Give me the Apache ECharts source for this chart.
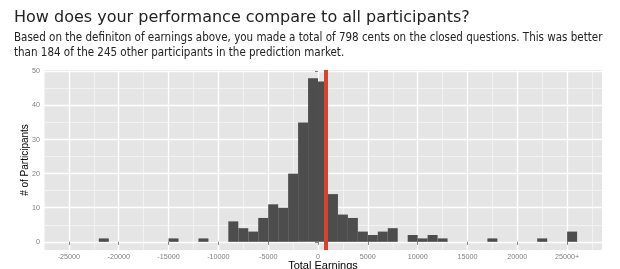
<!DOCTYPE html>
<html><head><meta charset="utf-8">
<script src="https://cdn.jsdelivr.net/npm/echarts@6/dist/echarts.min.js"></script>
<style>html,body{margin:0;padding:0;background:#fff;}#c{width:620px;height:269px;}</style>
</head><body><div id="c"></div>
<script>
// Histogram bins (bin start, width 1000 cents) and counts
const binStarts = [-22000,-15000,-12000,-9000,-8000,-7000,-6000,-5000,-4000,-3000,-2000,-1000,0,1000,2000,3000,4000,5000,6000,7000,9000,10000,11000,12000,17000,22000,25000];
const counts    = [1,1,1,6,4,3,7,11,10,20,35,48,47,14,8,7,3,2,3,4,2,1,2,1,1,1,3];
const binWidth = 1000;
const myEarnings = 798;
const xTicks = [-25000,-20000,-15000,-10000,-5000,0,5000,10000,15000,20000,25000];
const xTickLabels = ['-25000','-20000','-15000','-10000','-5000','0','5000','10000','15000','20000','25000+'];
const yTicks = [0,10,20,30,40,50];
const xMinor = [-27500,-22500,-17500,-12500,-7500,-2500,2500,7500,12500,17500,22500,27500];
const yMinor = [5,15,25,35,45];

const X_MIN = -27500, X_MAX = 28500, Y_MIN = -2.4, Y_MAX = 50.4;
const data = binStarts.map((s,i)=>[s, s+binWidth, counts[i]]);
const chart = echarts.init(document.getElementById('c'));
chart.setOption({
  animation:false,
  title:{
    text:'How does your performance compare to all participants?',
    subtext:'Based on the definiton of earnings above, you made a total of 798 cents on the closed questions. This was better\nthan 184 of the 245 other participants in the prediction market.',
    left:9, top:5, itemGap:5,
    textStyle:{fontFamily:'DejaVu Sans', fontSize:16, fontWeight:'normal', color:'#222'},
    subtextStyle:{fontFamily:'DejaVu Sans Condensed', fontSize:11.5, color:'#222', lineHeight:14.5}
  },
  grid:{left:44, right:18, top:70, bottom:19, show:true, backgroundColor:'#E5E5E5', borderWidth:0,
        containLabel:false, outerBoundsMode:'none'},
  xAxis:[{
    type:'value', min:X_MIN, max:X_MAX, z:2,
    name:'Total Earnings', nameLocation:'middle', nameGap:10, nameMoveOverlap:false,
    nameTextStyle:{fontFamily:'Liberation Sans', fontSize:11, color:'#000'},
    axisLine:{show:false},
    axisTick:{show:true, customValues:xTicks, length:3, lineStyle:{color:'#7F7F7F'}},
    axisLabel:{customValues:xTicks, fontFamily:'Liberation Sans', fontSize:7.2, color:'#7F7F7F', margin:4,
      formatter:v=>xTickLabels[xTicks.indexOf(v)]},
    splitLine:{show:true, lineStyle:{color:'#FFFFFF', width:1.3}}
  },{
    type:'value', min:X_MIN, max:X_MAX, z:1, position:'bottom',
    axisLine:{show:false}, axisLabel:{show:false, customValues:xMinor},
    axisTick:{show:false, customValues:xMinor},
    splitLine:{show:true, lineStyle:{color:'#F2F2F2', width:1}}
  }],
  yAxis:[{
    type:'value', min:Y_MIN, max:Y_MAX, z:2,
    name:'# of Participants', nameLocation:'middle', nameGap:14, nameMoveOverlap:false,
    nameTextStyle:{fontFamily:'Liberation Sans', fontSize:10, color:'#000'},
    axisLine:{show:false},
    axisTick:{show:true, customValues:yTicks, length:3, lineStyle:{color:'#7F7F7F'}},
    axisLabel:{customValues:yTicks, fontFamily:'Liberation Sans', fontSize:7.2, color:'#7F7F7F', margin:4},
    splitLine:{show:true, lineStyle:{color:'#FFFFFF', width:1.3}}
  },{
    type:'value', min:Y_MIN, max:Y_MAX, z:1, position:'left',
    axisLine:{show:false}, axisLabel:{show:false, customValues:yMinor},
    axisTick:{show:false, customValues:yMinor},
    splitLine:{show:true, lineStyle:{color:'#F2F2F2', width:1}}
  }],
  series:[
    {
      type:'custom', z:3,
      data:data,
      encode:{x:[0,1], y:2},
      renderItem:(params, api)=>{
        const p0 = api.coord([api.value(0), 0]);
        const p1 = api.coord([api.value(1), api.value(2)]);
        return {type:'rect', shape:{x:p0[0], y:p1[1], width:p1[0]-p0[0], height:p0[1]-p1[1]},
          style:{fill:'#4D4D4D'}};
      }
    },
    {
      type:'line', data:[], silent:true, z:4,
      markLine:{silent:true, z:10, symbol:'none', label:{show:false}, animation:false,
        lineStyle:{color:'#D5432D', width:4, type:'solid'}, data:[{xAxis:myEarnings}]}
    }
  ]
});
</script></body></html>
